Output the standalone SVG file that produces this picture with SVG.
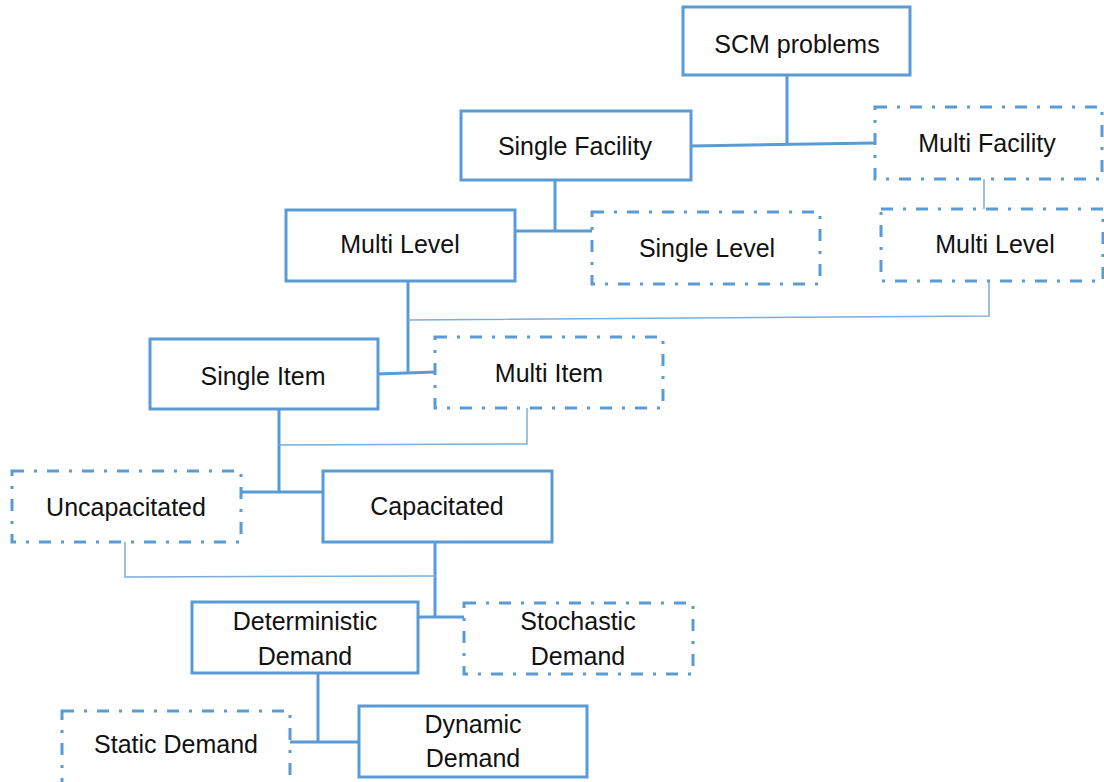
<svg xmlns="http://www.w3.org/2000/svg" width="1104" height="782" viewBox="0 0 1104 782">
  <style>
    .box { fill: #ffffff; stroke: #5b9bd5; stroke-width: 3; }
    .alt { stroke-dasharray: 12 10 3 10; }
    .lbl { font-family: "Liberation Sans", Arial, sans-serif; font-size: 25px; fill: #111111; text-anchor: middle; }
    .link { fill: none; stroke: #5b9bd5; stroke-width: 3; }
    .thin { fill: none; stroke: #7aaedc; stroke-width: 1.5; }
  </style>
  <rect width="1104" height="782" fill="#ffffff"/>

  <!-- connectors -->
  <g id="connectors">
    <path class="link" d="M787 75 V144"/>
    <path class="link" d="M691 146 L875 143"/>
    <path class="link" d="M555 180 V232"/>
    <path class="link" d="M515 231 H597"/>
    <path class="link" d="M408 281 V374"/>
    <path class="link" d="M378 374 L435 372"/>
    <path class="link" d="M279 409 V492"/>
    <path class="link" d="M241 492 H323"/>
    <path class="link" d="M435 542 V617"/>
    <path class="link" d="M418 617 H464"/>
    <path class="link" d="M318 673 V742"/>
    <path class="link" d="M290 742 H359"/>
    <path class="thin" d="M984 179 V209"/>
    <path class="thin" d="M989 281 V316 L408 320"/>
    <path class="thin" d="M527 408 V444 L279 445"/>
    <path class="thin" d="M125 542 V577 L435 576"/>
  </g>

  <g id="scm-problems">
    <rect class="box" x="683" y="7" width="227" height="68"/>
    <text class="lbl" x="797" y="53">SCM problems</text>
  </g>
  <g id="single-facility">
    <rect class="box" x="461" y="111" width="230" height="69"/>
    <text class="lbl" x="575" y="155">Single Facility</text>
  </g>
  <g id="multi-facility">
    <rect class="box alt" x="875" y="107" width="227" height="72"/>
    <text class="lbl" x="987" y="152">Multi Facility</text>
  </g>
  <g id="multi-level-a">
    <rect class="box" x="286" y="210" width="229" height="71"/>
    <text class="lbl" x="400" y="253">Multi Level</text>
  </g>
  <g id="single-level">
    <rect class="box alt" x="592" y="212" width="228" height="72"/>
    <text class="lbl" x="707" y="257">Single Level</text>
  </g>
  <g id="multi-level-b">
    <rect class="box alt" x="881" y="209" width="222" height="72"/>
    <text class="lbl" x="995" y="253">Multi Level</text>
  </g>
  <g id="single-item">
    <rect class="box" x="150" y="339" width="228" height="70"/>
    <text class="lbl" x="263" y="385">Single Item</text>
  </g>
  <g id="multi-item">
    <rect class="box alt" x="435" y="337" width="228" height="71"/>
    <text class="lbl" x="549" y="382">Multi Item</text>
  </g>
  <g id="uncapacitated">
    <rect class="box alt" x="12" y="471" width="229" height="71"/>
    <text class="lbl" x="126" y="516">Uncapacitated</text>
  </g>
  <g id="capacitated">
    <rect class="box" x="323" y="471" width="229" height="71"/>
    <text class="lbl" x="437" y="515">Capacitated</text>
  </g>
  <g id="deterministic-demand">
    <rect class="box" x="192" y="602" width="226" height="71"/>
    <text class="lbl" x="305" y="630">Deterministic</text>
    <text class="lbl" x="305" y="665">Demand</text>
  </g>
  <g id="stochastic-demand">
    <rect class="box alt" x="464" y="603" width="229" height="71"/>
    <text class="lbl" x="578" y="630">Stochastic</text>
    <text class="lbl" x="578" y="665">Demand</text>
  </g>
  <g id="static-demand">
    <rect class="box alt" x="62" y="711" width="228" height="74"/>
    <text class="lbl" x="176" y="753">Static Demand</text>
  </g>
  <g id="dynamic-demand">
    <rect class="box" x="359" y="706" width="228" height="71"/>
    <text class="lbl" x="473" y="733">Dynamic</text>
    <text class="lbl" x="473" y="767">Demand</text>
  </g>
</svg>
